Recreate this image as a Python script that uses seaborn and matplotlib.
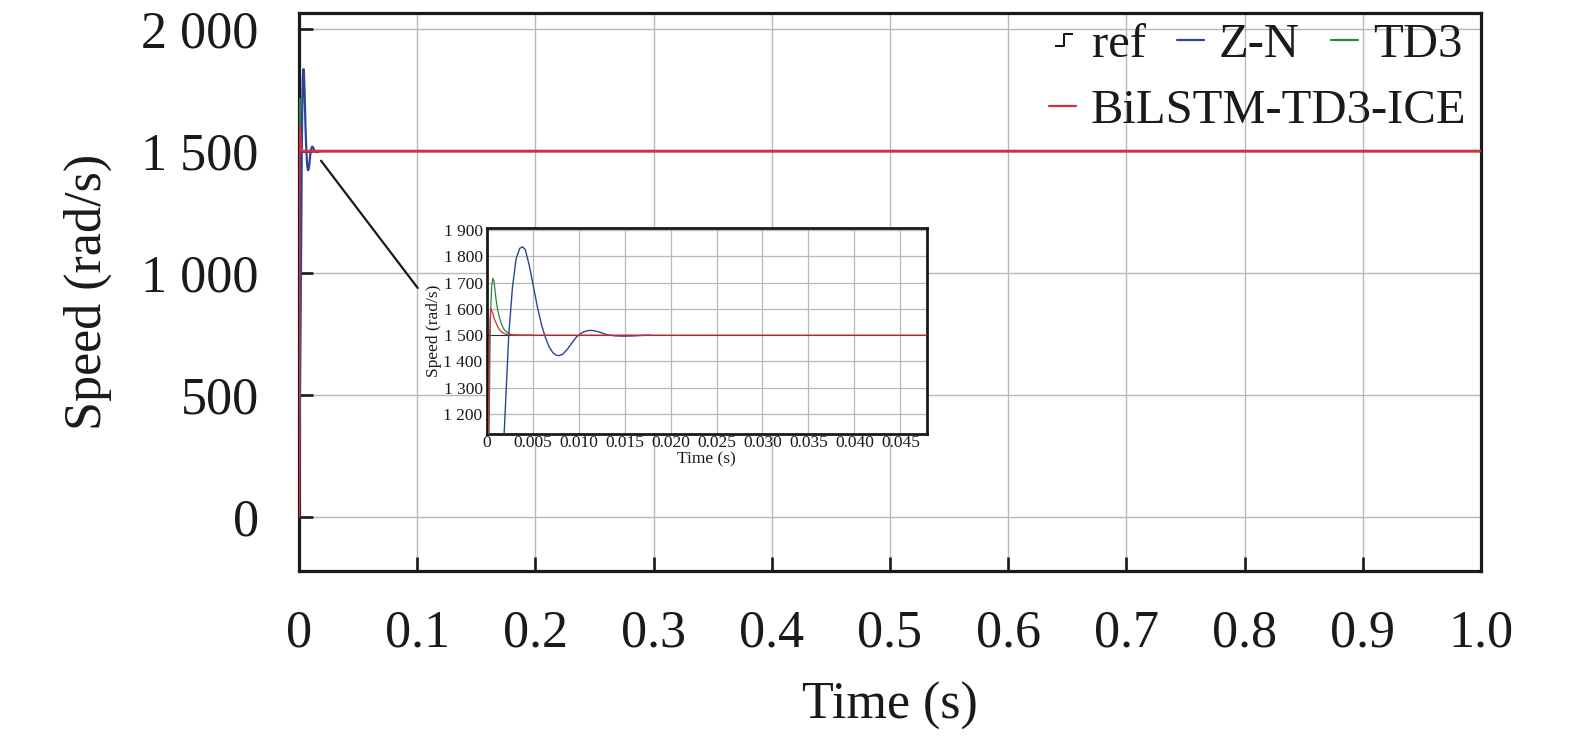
import numpy as np
import pandas as pd
import matplotlib
matplotlib.use("Agg")
import matplotlib.pyplot as plt
from matplotlib.lines import Line2D
from matplotlib.path import Path
import seaborn as sns

# reference step
ref_t = [0.0, 0.0, 1.0]
ref_v = [0, 1500, 1500]

# Z-N response
zn_t = [0.0, 0.0010, 0.0019, 0.0024, 0.0028, 0.0032, 0.0036, 0.0039, 0.0042, 0.0046,
        0.0050, 0.0055, 0.0060, 0.0064, 0.0068, 0.0072, 0.0076, 0.0079, 0.0083, 0.0088,
        0.0093, 0.0098, 0.0102, 0.0106, 0.0110, 0.0114, 0.0118, 0.0123, 0.0128, 0.0133,
        0.0140, 0.0150, 0.0160, 0.0170, 0.0178]
zn_v = [0, 590, 1124, 1500, 1680, 1790, 1830, 1836, 1825, 1770,
        1700, 1610, 1535, 1490, 1455, 1433, 1423, 1422, 1428, 1447,
        1472, 1494, 1505, 1513, 1517, 1518, 1516, 1511, 1505, 1500,
        1497, 1496, 1497, 1499, 1500]

# TD3 response
td3_t = [0.0, 0.00022, 0.0004, 0.00055, 0.00068, 0.0008, 0.0010, 0.0012, 0.0014, 0.0016,
         0.0018, 0.0020, 0.0023, 0.0026, 0.0030, 0.0040, 0.0050]
td3_v = [0, 1000, 1560, 1690, 1716, 1705, 1640, 1595, 1565, 1543,
         1527, 1517, 1508, 1503, 1501, 1500, 1500]

# BiLSTM-TD3-ICE response
ice_t = [0.0, 0.00018, 0.0003, 0.00043, 0.0006, 0.0008, 0.0010, 0.0012, 0.0014, 0.0017,
         0.0020, 0.0025, 0.0030, 1.0]
ice_v = [0, 1000, 1480, 1602, 1590, 1565, 1548, 1532, 1520, 1510,
         1504, 1501, 1500, 1500]

main_xticks = [0, 0.1, 0.2, 0.3, 0.4, 0.5, 0.6, 0.7, 0.8, 0.9, 1.0]
main_xlabels = ["0", "0.1", "0.2", "0.3", "0.4", "0.5", "0.6", "0.7", "0.8", "0.9", "1.0"]
main_yticks = [0, 500, 1000, 1500, 2000]
main_ylabels = ["0", "500", "1 000", "1 500", "2 000"]

inset_xticks = [0, 0.005, 0.010, 0.015, 0.020, 0.025, 0.030, 0.035, 0.040, 0.045]
inset_xlabels = ["0", "0.005", "0.010", "0.015", "0.020", "0.025", "0.030", "0.035", "0.040", "0.045"]
inset_yticks = [1200, 1300, 1400, 1500, 1600, 1700, 1800, 1900]
inset_ylabels = ["1 200", "1 300", "1 400", "1 500", "1 600", "1 700", "1 800", "1 900"]

c_ref = "#111111"
c_zn = "#2c4596"
c_td3 = "#2e8540"
c_ice = "#d3303c"

sns.set_style("white")
plt.rcParams["font.family"] = ["Liberation Serif", "DejaVu Serif"]
plt.rcParams["axes.unicode_minus"] = False

series = [
    ("ref", ref_t, ref_v, c_ref),
    ("Z-N", zn_t, zn_v, c_zn),
    ("TD3", td3_t, td3_v, c_td3),
    ("BiLSTM-TD3-ICE", ice_t, ice_v, c_ice),
]
frames = {name: pd.DataFrame({"time": t, "speed": v}) for name, t, v, _ in series}

fig = plt.figure(figsize=(15.75, 7.38), dpi=100)
ax = fig.add_axes([0.1898, 0.2267, 0.7505, 0.7561])

main_lw = {"ref": 1.0, "Z-N": 1.6, "TD3": 1.0, "BiLSTM-TD3-ICE": 2.0}
for z, (name, _, _, col) in enumerate(series):
    sns.lineplot(data=frames[name], x="time", y="speed", ax=ax, color=col,
                 lw=main_lw[name], sort=False, estimator=None, legend=False, zorder=3 + z)

ax.set_xlim(0, 1.0)
ax.set_ylim(-222, 2068)
ax.set_xticks(main_xticks)
ax.set_xticklabels(main_xlabels)
ax.set_yticks(main_yticks)
ax.set_yticklabels(main_ylabels)
ax.grid(True, color="#b8b8b8", lw=1.0)
ax.tick_params(axis="both", direction="in", length=10, width=1.9, labelsize=37.5,
               colors="#1a1a1a", top=False, right=False, bottom=True, left=True)
ax.tick_params(axis="x", pad=28)
ax.tick_params(axis="y", pad=29)
for s in ax.spines.values():
    s.set_linewidth(2.3)
    s.set_color("#1a1a1a")
ax.set_xlabel("Time (s)", fontsize=37.5, color="#1a1a1a")
ax.set_ylabel("Speed (rad/s)", fontsize=37.5, color="#1a1a1a")
ax.xaxis.set_label_coords(0.5, -0.20)
ax.yaxis.set_label_coords(-0.158, 0.5)

# legend handles
step_marker = Path([(-0.6, -0.4), (0.0, -0.4), (0.0, 0.4), (0.6, 0.4)],
                   [Path.MOVETO, Path.LINETO, Path.LINETO, Path.LINETO])
h_ref = Line2D([], [], color=c_ref, marker=step_marker, markersize=13, markerfacecolor="none",
               markeredgewidth=1.4, linestyle="none")
h_zn = Line2D([], [], color=c_zn, lw=1.6)
h_td3 = Line2D([], [], color=c_td3, lw=1.6)
h_ice = Line2D([], [], color=c_ice, lw=1.6)

leg_kw = dict(frameon=False, fontsize=35, handlelength=0.55, handletextpad=0.3,
              columnspacing=0.65, borderpad=0, borderaxespad=0, loc="center right")
leg1 = ax.legend([h_ref, h_zn, h_td3], ["ref", "Z-N", "TD3"], ncol=3,
                 bbox_to_anchor=(0.984, 0.942), **leg_kw)
for t in leg1.get_texts():
    t.set_color("#1a1a1a")
ax.add_artist(leg1)
leg2 = ax.legend([h_ice], ["BiLSTM-TD3-ICE"], bbox_to_anchor=(0.9875, 0.8235), **leg_kw)
for t in leg2.get_texts():
    t.set_color("#1a1a1a")

# inset
axi = fig.add_axes([0.309, 0.412, 0.2796, 0.2796])
inset_lw = {"ref": 0.6, "Z-N": 1.0, "TD3": 0.9, "BiLSTM-TD3-ICE": 0.9}
for z, (name, _, _, col) in enumerate(series):
    sns.lineplot(data=frames[name], x="time", y="speed", ax=axi, color=col,
                 lw=inset_lw[name], sort=False, estimator=None, legend=False, zorder=3 + z)
axi.set_xlim(0, 0.0479)
axi.set_ylim(1124, 1909)
axi.set_xticks(inset_xticks)
axi.set_xticklabels(inset_xlabels)
axi.set_yticks(inset_yticks)
axi.set_yticklabels(inset_ylabels)
axi.grid(True, color="#b8b8b8", lw=0.9)
axi.tick_params(axis="both", length=0, labelsize=12.5, colors="#1a1a1a")
axi.tick_params(axis="x", pad=1)
axi.tick_params(axis="y", pad=3)
for s in axi.spines.values():
    s.set_linewidth(2.0)
    s.set_color("#1a1a1a")
axi.set_xlabel("Time (s)", fontsize=12.5, labelpad=0, color="#1a1a1a")
axi.set_ylabel("Speed (rad/s)", fontsize=12.5, labelpad=1, color="#1a1a1a")

# connector from main curve to inset
fig.add_artist(Line2D([0.2038, 0.2652], [0.7823, 0.6098], transform=fig.transFigure,
                      color="#1a1a1a", lw=1.6))

fig.savefig("out.png", dpi=100)
